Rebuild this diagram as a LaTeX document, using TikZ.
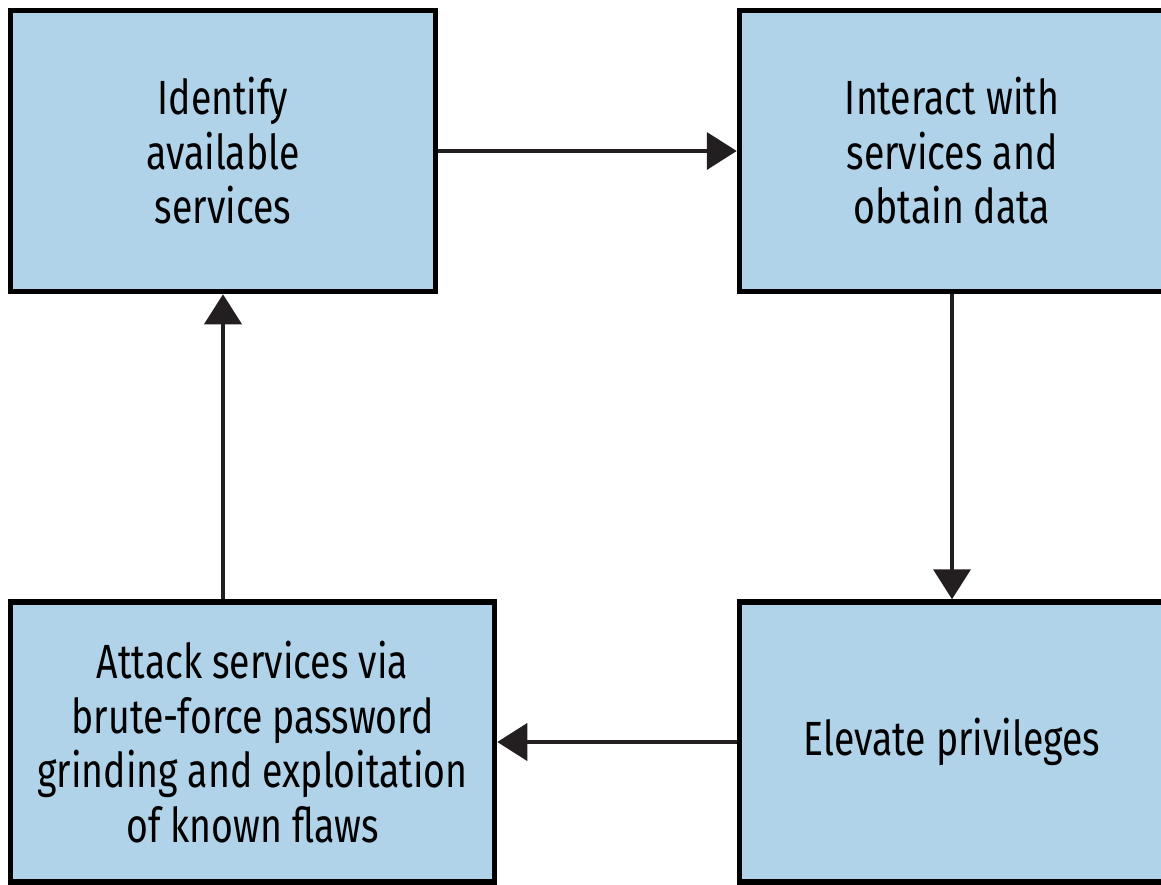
\documentclass[tikz,border=0pt]{standalone}
\usepackage{fontspec}
\setmainfont[FakeStretch=0.78]{Fira Sans}
\usetikzlibrary{arrows.meta}
\definecolor{boxfill}{HTML}{B0D3E9}
\definecolor{arrowcol}{HTML}{231F20}
\tikzset{
  stage/.style={draw=black, line width=5.5pt, fill=boxfill, align=center,
    font=\fontsize{48}{54.5}\selectfont, text=black, inner sep=0pt},
  flow/.style={draw=arrowcol, line width=4pt,
    -{Triangle[length=30pt,width=37pt]}}
}
\begin{document}
\begin{tikzpicture}[x=1pt,y=-1pt]
\useasboundingbox (0,0) rectangle (1161,884);
\clip (0,0) rectangle (1161,884);
\node[stage, minimum width=425pt, minimum height=281pt] (tl) at (223,151)
  {Identify\\available\\services};
\node[stage, minimum width=425pt, minimum height=281pt] (tr) at (952,151)
  {Interact with\\services and\\obtain data};
\node[stage, minimum width=484pt, minimum height=280pt] (bl) at (252.5,742)
  {Attack services via\\brute-force password\\grinding and exploitation\\of known flaws};
\node[stage, minimum width=425pt, minimum height=280pt] (br) at (952,742)
  {Elevate privileges};
\draw[flow] (tl.east) -- (tr.west);
\draw[flow] (tr.south) -- (br.north);
\draw[flow] (br.west |- bl.east) -- (bl.east);
\draw[flow] (bl.north -| tl.south) -- (tl.south);
\end{tikzpicture}
\end{document}
